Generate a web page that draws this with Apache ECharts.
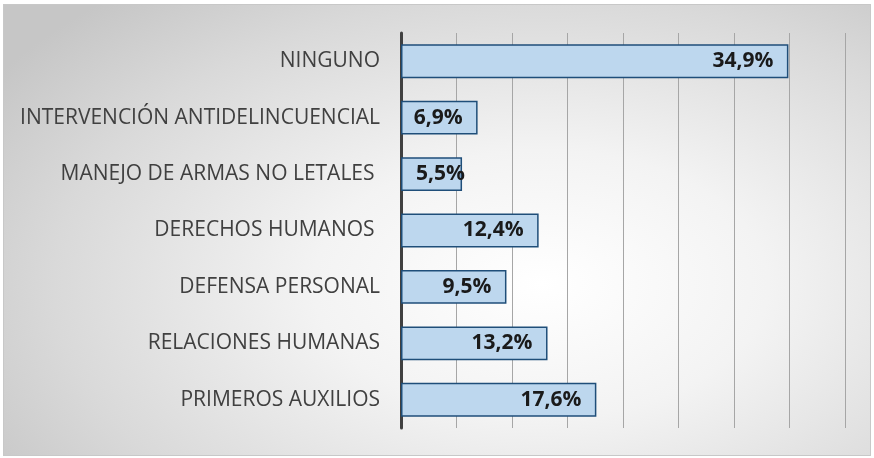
<!DOCTYPE html>
<html>
<head>
<meta charset="utf-8">
<script src="https://cdn.jsdelivr.net/npm/echarts@6/dist/echarts.min.js"></script>
<style>
  body { margin: 0; background: #fff; }
  .frame {
    position: absolute; left: 3px; top: 4px; width: 866px; height: 450px;
    border: 1px solid #c8c8c8;
    background: radial-gradient(ellipse 75% 85% at 62% 62%, #ffffff 0%, #f3f3f3 35%, #d9d9d9 75%, #c6c6c6 100%);
  }
  #main { position: absolute; left: 0; top: 0; width: 874px; height: 458px; }
</style>
</head>
<body>
<div class="frame"></div>
<div id="main"></div>
<script>
  // categories top to bottom
  var categories = [
    'NINGUNO',
    'INTERVENCIÓN ANTIDELINCUENCIAL',
    'MANEJO DE ARMAS NO LETALES ',
    'DERECHOS HUMANOS ',
    'DEFENSA PERSONAL',
    'RELACIONES HUMANAS',
    'PRIMEROS AUXILIOS'
  ]
  var values = [34.9, 6.9, 5.5, 12.4, 9.5, 13.2, 17.6]

  // short bars: label sits from the base, like in the original
  var seriesData = values.map(function (v) {
    if (v < 6) {
      return { value: v, label: { position: 'insideLeft', distance: 15 } }
    }
    return v
  })

  var myChart = echarts.init(document.getElementById('main'))
  var option = {
    animation: false,
    backgroundColor: 'transparent',
    grid: { left: 401, right: 29, top: 33, bottom: 30 },
    xAxis: {
      type: 'value',
      min: 0,
      max: 40,
      interval: 5,
      axisLine: { show: false },
      axisTick: { show: false },
      axisLabel: { show: false },
      splitLine: { show: true, lineStyle: { color: '#a6a6a6', width: 1 } }
    },
    yAxis: {
      type: 'category',
      inverse: true,
      data: categories,
      axisLine: { show: true, lineStyle: { color: '#404040', width: 3 } },
      axisTick: { show: false },
      axisLabel: {
        margin: 21,
        color: '#404040',
        fontFamily: 'Open Sans',
        fontSize: 21
      }
    },
    series: [
      {
        type: 'bar',
        data: seriesData,
        barWidth: '60%',
        itemStyle: { color: '#bdd7ee', borderColor: '#1f4e79', borderWidth: 1.5 },
        label: {
          show: true,
          position: 'insideRight',
          distance: 15,
          color: '#1a1a1a',
          fontFamily: 'Open Sans',
          fontWeight: 'bold',
          fontSize: 21,
          formatter: function (p) { return p.value.toFixed(1).replace('.', ',') + '%' }
        }
      }
    ]
  }
  option && myChart.setOption(option)
</script>
</body>
</html>
